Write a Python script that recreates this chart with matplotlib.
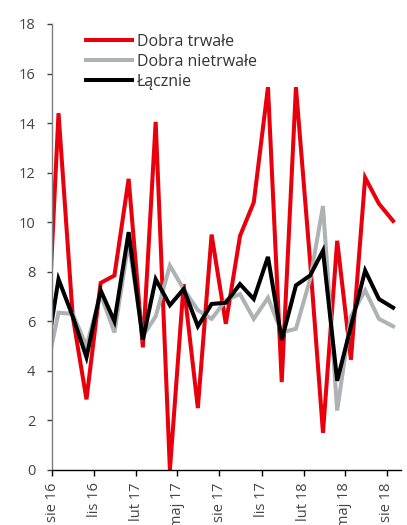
import matplotlib
matplotlib.use("Agg")
import matplotlib.pyplot as plt
import pandas as pd

plt.rcParams['font.family'] = ['Open Sans', 'DejaVu Sans']

# Monthly y/y growth, Jul 2016 - Aug 2018
months = pd.period_range("2016-07", "2018-08", freq="M")
durable = [2.5, 14.4, 6.2, 2.85, 7.55, 7.85, 11.75, 4.95, 14.05, 0.0, 7.5, 2.5,
           9.5, 5.9, 9.45, 10.8, 15.45, 3.55, 15.45, 8.4, 1.5, 9.25, 4.45, 11.8,
           10.75, 10.05]
nondurable = [3.6, 6.35, 6.3, 5.0, 7.1, 5.55, 9.2, 5.4, 6.2, 8.25, 7.3, 6.45,
              6.1, 6.85, 7.1, 6.1, 6.95, 5.55, 5.7, 7.7, 10.65, 2.4, 6.2, 7.25,
              6.1, 5.8]
total = [4.1, 7.7, 6.2, 4.55, 7.25, 6.0, 9.6, 5.25, 7.7, 6.65, 7.3, 5.8, 6.7,
         6.75, 7.5, 6.9, 8.6, 5.25, 7.45, 7.85, 8.85, 3.6, 5.8, 8.05, 6.9, 6.55]

series_names = ["Dobra trwałe", "Dobra nietrwałe", "Łącznie"]
series_colors = ["#e8000d", "#aeb2b5", "#000000"]

tick_months = ["2016-08", "2016-11", "2017-02", "2017-05", "2017-08",
               "2017-11", "2018-02", "2018-05", "2018-08"]
tick_labels = ["sie 16", "lis 16", "lut 17", "maj 17", "sie 17", "lis 17",
               "lut 18", "maj 18", "sie 18"]

# points sit mid-month, ticks mark the first day of the month
x = months.to_timestamp() + pd.Timedelta(days=14)

fig = plt.figure(figsize=(4.07, 5.25), dpi=100)
ax = fig.add_axes([0.128, 0.1048, 0.857, 0.8495])

for vals, name, col in zip([durable, nondurable, total], series_names, series_colors):
    ax.plot(x, vals, color=col, lw=2.9, label=name, solid_joinstyle="miter")

ax.set_ylim(0, 18)
ax.set_yticks(range(0, 19, 2))
ax.set_xlim(pd.Timestamp("2016-08-01"), pd.Timestamp("2018-09-01"))
ax.set_xticks([pd.Timestamp(m + "-01") for m in tick_months])
ax.set_xticklabels(tick_labels, rotation=90, ha="center", va="top")

for s in ["top", "right"]:
    ax.spines[s].set_visible(False)
ax.spines["left"].set_color("#7f7f7f")
ax.spines["left"].set_linewidth(1.0)
ax.spines["bottom"].set_color("#000000")
ax.spines["bottom"].set_linewidth(1.0)

ax.tick_params(axis="y", direction="out", length=3.6, width=1.0,
               color="#404040", labelsize=10.5, labelcolor="#444444", pad=8.5)
ax.tick_params(axis="x", direction="out", length=4.3, width=1.0,
               color="#000000", labelsize=10.5, labelcolor="#444444", pad=4.5)

leg = ax.legend(loc="upper left", bbox_to_anchor=(0.07, 1.0), frameon=False,
                fontsize=11.5, handlelength=2.9, handletextpad=0.3,
                labelspacing=0.25, borderaxespad=0.2)
for t in leg.get_texts():
    t.set_color("#333333")

fig.savefig("out.png", dpi=100)
